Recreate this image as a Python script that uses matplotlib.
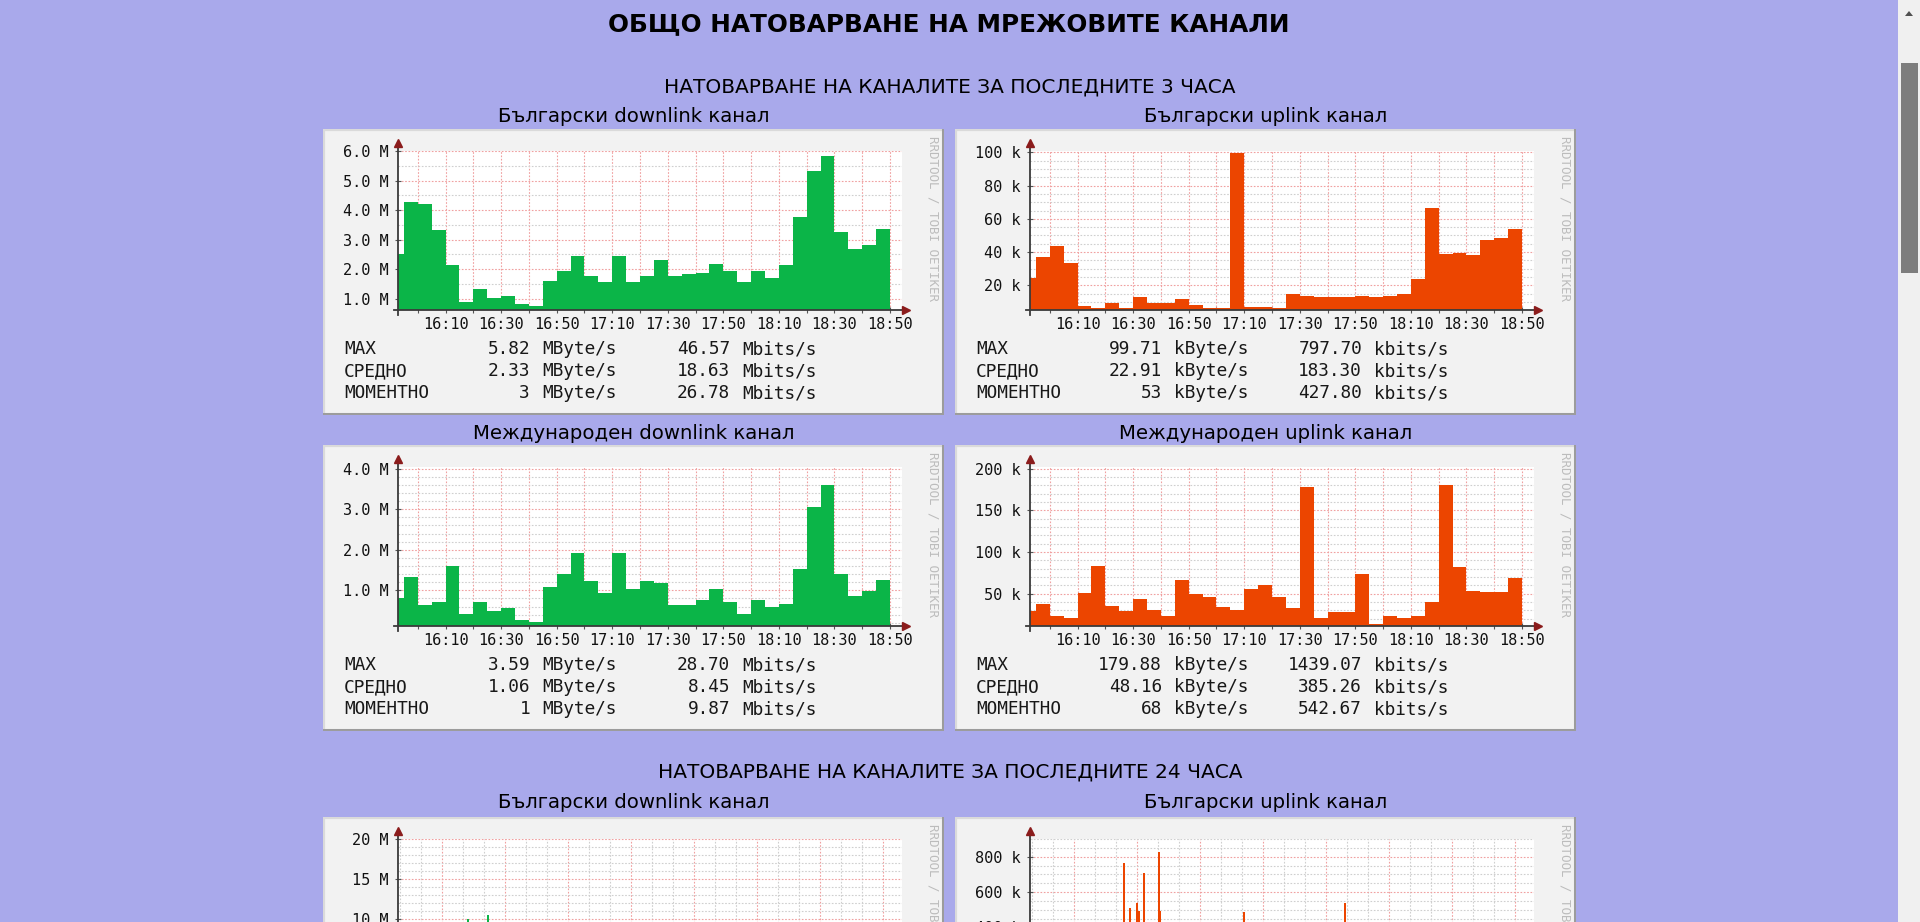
import numpy as np
import matplotlib
matplotlib.use('Agg')
import matplotlib.pyplot as plt
from matplotlib.patches import Rectangle, Polygon
from matplotlib.ticker import MultipleLocator

plt.rcParams['font.family'] = ['DejaVu Sans']

W, H = 1920, 922

# --- данни: 5-минутни стойности за последните 3 часа (първата е непълна) ---
start_3h = -7.1      # минути спрямо 16:00, ляв край на графиката
end_3h = 174.3
step_3h = 5
x_labels_3h = ['16:10', '16:30', '16:50', '17:10', '17:30', '17:50', '18:10', '18:30', '18:50']

bg_down_3h = [2.52, 4.28, 4.22, 3.31, 2.13, 0.88, 1.34, 1.02, 1.08, 0.81, 0.76, 1.61,
              1.93, 2.46, 1.76, 1.57, 2.46, 1.57, 1.76, 2.30, 1.76, 1.83, 1.87, 2.19,
              1.93, 1.57, 1.93, 1.71, 2.13, 3.77, 5.32, 5.82, 3.25, 2.67, 2.83, 3.35]
bg_up_3h = [24.5, 37.0, 43.5, 33.2, 7.4, 6.6, 9.4, 6.6, 13.1, 9.2, 9.2, 12.0,
            8.4, 6.4, 6.4, 99.7, 7.2, 7.2, 6.4, 15.1, 13.9, 12.9, 12.9, 12.9,
            13.9, 13.1, 13.9, 15.1, 23.6, 66.3, 38.9, 39.7, 38.1, 47.4, 48.2, 53.9]
int_down_3h = [0.80, 1.34, 0.63, 0.71, 1.61, 0.41, 0.71, 0.48, 0.56, 0.28, 0.21, 1.07,
               1.41, 1.92, 1.22, 0.94, 1.92, 1.03, 1.22, 1.17, 0.63, 0.63, 0.75, 1.03,
               0.71, 0.41, 0.75, 0.60, 0.67, 1.53, 3.05, 3.59, 1.41, 0.87, 0.98, 1.26]
int_up_3h = [28.6, 37.9, 22.9, 21.3, 51.2, 83.5, 35.7, 28.6, 43.6, 30.2, 22.9, 66.6,
             49.6, 45.6, 34.2, 30.2, 55.3, 60.5, 45.6, 32.6, 178.1, 20.9, 28.2, 28.2,
             73.9, 13.2, 22.9, 20.9, 22.9, 39.9, 179.9, 81.6, 53.5, 51.9, 51.9, 68.6]

# статистика под графиките
bg_down_stats = [('MAX', '5.82', '46.57'), ('СРЕДНО', '2.33', '18.63'), ('МОМЕНТНО', '3', '26.78')]
bg_up_stats = [('MAX', '99.71', '797.70'), ('СРЕДНО', '22.91', '183.30'), ('МОМЕНТНО', '53', '427.80')]
int_down_stats = [('MAX', '3.59', '28.70'), ('СРЕДНО', '1.06', '8.45'), ('МОМЕНТНО', '1', '9.87')]
int_up_stats = [('MAX', '179.88', '1439.07'), ('СРЕДНО', '48.16', '385.26'), ('МОМЕНТНО', '68', '542.67')]

# --- 24 часа: видимите пикове (часове спрямо полунощ) ---
start_24h = -5.1
end_24h = 18.9
bg_down_24h_hours = [-1.77, -0.81]
bg_down_24h_vals = [9.9, 10.4]
bg_up_24h_hours = [-0.61, -0.34, 0.01, 0.10, 0.33, 1.06, 1.12, 5.1, 9.9]
bg_up_24h_vals = [763, 512, 537, 492, 710, 825, 494, 485, 540]

GREEN = '#0bb548'
ORANGE = '#ec4500'
PAGE_BG = '#a9a9eb'
PW, PH = 621, 286

fig = plt.figure(figsize=(W / 100, H / 100), dpi=100)
fig.patch.set_facecolor(PAGE_BG)


def pixel_axes(x, y, w, h):
    return fig.add_axes([x / W, 1 - (y + h) / H, w / W, h / H])


def to_min(lab):
    h, m = lab.split(':')
    return (int(h) - 16) * 60 + int(m)


def draw_frame(px, py, stats=None, units=None):
    pax = pixel_axes(px, py, PW, PH)
    pax.set_xlim(0, PW)
    pax.set_ylim(PH, 0)
    pax.axis('off')
    pax.add_patch(Rectangle((0, 0), PW, PH, fc='#f2f2f2', ec='none'))
    pax.plot([0, PW], [0.8, 0.8], color='#dadada', lw=1.6)
    pax.plot([0.8, 0.8], [0, PH], color='#dadada', lw=1.6)
    pax.plot([0, PW], [PH - 1.2, PH - 1.2], color='#9c9c9c', lw=2.2)
    pax.plot([PW - 1.2, PW - 1.2], [0, PH], color='#9c9c9c', lw=2.2)
    pax.text(610, 7, 'RRDTOOL / TOBI OETIKER', rotation=270, ha='center', va='top',
             family='DejaVu Sans Mono', fontsize=9, color='#bcbcbc')
    if stats:
        for i, (name, v1, v2) in enumerate(stats):
            y = 220 + i * 22
            kw = dict(family='DejaVu Sans Mono', fontsize=12.8, color='#181818', va='center')
            pax.text(21, y, name, ha='left', **kw)
            pax.text(207, y, v1, ha='right', **kw)
            pax.text(219, y, units[0], ha='left', **kw)
            pax.text(407, y, v2, ha='right', **kw)
            pax.text(419, y, units[1], ha='left', **kw)
    return pax


def draw_plot(px, py, xlim, ylim, xmajor, xminor, ymajor, yminor, yfmt):
    ax = pixel_axes(px + 75, py + 22, 504, 159)
    ax.set_facecolor('white')
    for s in ax.spines.values():
        s.set_visible(False)
    ax.set_xlim(*xlim)
    ax.set_ylim(*ylim)
    ax.xaxis.set_major_locator(MultipleLocator(xmajor))
    if xminor:
        ax.xaxis.set_minor_locator(MultipleLocator(xminor))
    ax.yaxis.set_major_locator(MultipleLocator(ymajor))
    ax.yaxis.set_minor_locator(MultipleLocator(yminor))
    ax.set_axisbelow(True)
    ax.grid(which='minor', color='#cfcfcf', ls=(0, (1.5, 1.5)), lw=0.8)
    ax.grid(which='major', color='#f0a0a0', ls=(0, (1.5, 1.5)), lw=0.8)
    ax.tick_params(which='major', direction='inout', length=4, width=0.8, color='#555555',
                   labelsize=11, labelcolor='#111111')
    ax.tick_params(axis='x', pad=3)
    ax.tick_params(axis='y', pad=4.5)
    ax.tick_params(which='minor', length=0)
    ax.yaxis.set_major_formatter(yfmt)
    # оси и стрелки
    ax.plot([-0.008, 1.0], [0, 0], transform=ax.transAxes, color='#3a3a3a', lw=1.3,
            clip_on=False, zorder=5)
    ax.plot([0, 0], [-0.03, 1.04], transform=ax.transAxes, color='#3a3a3a', lw=1.3,
            clip_on=False, zorder=5)
    ax.plot([1.007], [0], marker='>', ms=5.5, color='#8b1c1c', transform=ax.transAxes,
            clip_on=False, zorder=6)
    ax.plot([0], [1.05], marker='^', ms=5.5, color='#8b1c1c', transform=ax.transAxes,
            clip_on=False, zorder=6)
    return ax


def finish_labels(ax):
    for lab in ax.get_xticklabels() + ax.get_yticklabels():
        lab.set_family('DejaVu Sans Mono')


edges_3h = np.r_[start_3h, np.arange(-5, 171, step_3h)]
label_min = [to_min(l) for l in x_labels_3h]
xt = np.arange(0, 171, 10)
xt_labels = [x_labels_3h[label_min.index(t)] if t in label_min else '' for t in xt]

fmt_M1 = lambda v, p: f'{v:.1f} M'
fmt_k = lambda v, p: f'{v:.0f} k'
fmt_M0 = lambda v, p: f'{v:.0f} M'

panels_3h = [
    (323, 129, bg_down_3h, GREEN, (0.62, 6.0), 1.0, 0.5, fmt_M1, bg_down_stats, ('MByte/s', 'Mbits/s')),
    (955, 129, bg_up_3h, ORANGE, (5.2, 100.8), 20, 5, fmt_k, bg_up_stats, ('kByte/s', 'kbits/s')),
    (323, 445, int_down_3h, GREEN, (0.12, 4.04), 1.0, 0.2, fmt_M1, int_down_stats, ('MByte/s', 'Mbits/s')),
    (955, 445, int_up_3h, ORANGE, (11.2, 202), 50, 10, fmt_k, int_up_stats, ('kByte/s', 'kbits/s')),
]

for px, py, vals, col, ylim, ymaj, ymin, fmt, stats, units in panels_3h:
    draw_frame(px, py, stats, units)
    ax = draw_plot(px, py, (start_3h, end_3h), ylim, 10, None, ymaj, ymin, fmt)
    ax.stairs(vals, edges_3h, fill=True, color=col, baseline=ylim[0], zorder=2)
    ax.set_xticks(xt)
    ax.set_xticklabels(xt_labels)
    finish_labels(ax)

# 24 часа (видима е само горната част)
for px, vals_h, vals, col, ylim, ymaj, ymin, fmt in [
        (323, bg_down_24h_hours, bg_down_24h_vals, GREEN, (0, 20), 5, 1, fmt_M0),
        (955, bg_up_24h_hours, bg_up_24h_vals, ORANGE, (0, 900), 200, 50, fmt_k)]:
    draw_frame(px, 817)
    ax = draw_plot(px, 817, (start_24h, end_24h), ylim, 3, 1, ymaj, ymin, fmt)
    ax.bar(vals_h, vals, width=5 / 60, color=col, zorder=2)
    ax.set_xticklabels([])
    finish_labels(ax)

# текстове на страницата
fig.text(949 / W, 1 - 24 / H, 'ОБЩО НАТОВАРВАНЕ НА МРЕЖОВИТЕ КАНАЛИ', ha='center', va='center',
         fontsize=17.8, fontweight='bold', color='black')
for y, t in [(87, 'НАТОВАРВАНЕ НА КАНАЛИТЕ ЗА ПОСЛЕДНИТЕ 3 ЧАСА'),
             (772, 'НАТОВАРВАНЕ НА КАНАЛИТЕ ЗА ПОСЛЕДНИТЕ 24 ЧАСА')]:
    fig.text(950 / W, 1 - y / H, t, ha='center', va='center', fontsize=14.5, color='black')
for y, left, right in [(116, 'Български downlink канал', 'Български uplink канал'),
                       (433, 'Международен downlink канал', 'Международен uplink канал'),
                       (803, 'Български downlink канал', 'Български uplink канал')]:
    fig.text(633.5 / W, 1 - y / H, left, ha='center', va='center', fontsize=14.2, color='black')
    fig.text(1265.5 / W, 1 - y / H, right, ha='center', va='center', fontsize=14.2, color='black')

# лента за превъртане
sax = pixel_axes(1898, 0, 22, H)
sax.set_xlim(0, 22)
sax.set_ylim(H, 0)
sax.axis('off')
sax.add_patch(Rectangle((0, 0), 22, H, fc='#f0f0f0', ec='none'))
sax.add_patch(Rectangle((2.7, 63), 17.3, 210, fc='#7d7d7d', ec='none'))
sax.add_patch(Polygon([[7, 16], [15, 16], [11, 11]], closed=True, fc='#505050', ec='none'))

fig.savefig('out.png', dpi=100, facecolor=fig.get_facecolor())
